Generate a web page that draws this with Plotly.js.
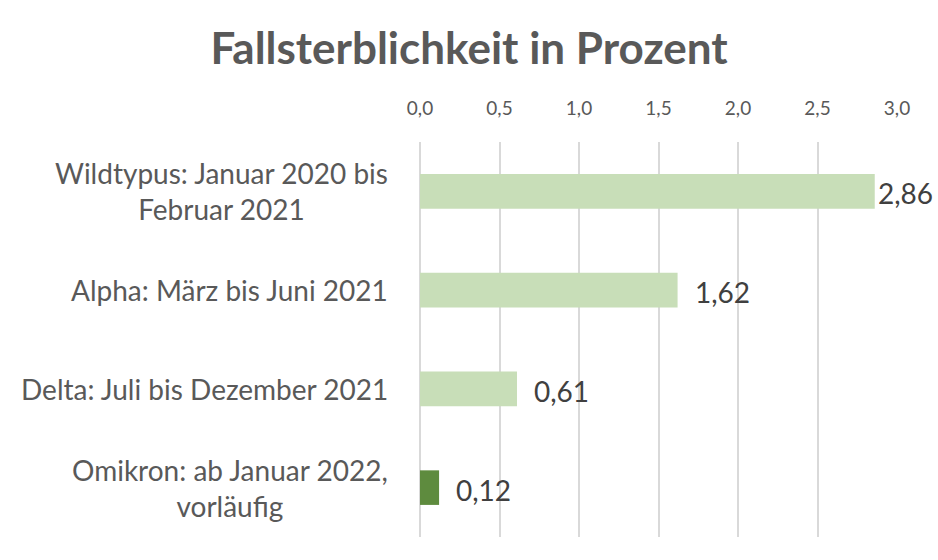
<!DOCTYPE html>
<html>
<head>
<meta charset="utf-8">
<script src="https://cdn.plot.ly/plotly-3.0.1.min.js"></script>
<style>html,body{margin:0;padding:0;background:#fff;}#chart{width:938px;height:560px;}</style>
</head>
<body>
<div id="chart"></div>
<script>
const categories = ["Wildtypus: Januar 2020 bis<br>Februar 2021", "Alpha: März bis Juni 2021", "Delta: Juli bis Dezember 2021", "Omikron: ab Januar 2022,<br>vorläufig"];
const values = [2.86, 1.62, 0.61, 0.12];
const valueLabels = ["2,86", "1,62", "0,61", "0,12"];
const barColors = ["#C8DEB8", "#C8DEB8", "#C8DEB8", "#5E8B3E"];
const tickVals = [0, 0.5, 1, 1.5, 2, 2.5, 3];
const tickText = ["0,0", "0,5", "1,0", "1,5", "2,0", "2,5", "3,0"];

const FONT = "Lato, 'Open Sans', sans-serif";

const trace = {
  type: "bar",
  orientation: "h",
  y: categories,
  x: values,
  width: 0.35,
  marker: {color: barColors},
  hoverinfo: "none"
};

const annotations = [];
categories.forEach((c, i) => {
  annotations.push({
    xref: "paper", yref: "y", x: 0, y: c, xanchor: "right", yanchor: "middle",
    xshift: -30, text: c, showarrow: false, align: "center",
    font: {family: FONT, size: 28, color: "#595959"}
  });
  annotations.push({
    xref: "x", yref: "y", x: values[i], y: c, xanchor: "left", yanchor: "middle",
    xshift: values[i] > 2.5 ? 1 : 15, yshift: -2, text: valueLabels[i], showarrow: false,
    font: {family: FONT, size: 28, color: "#404040"}
  });
});

const layout = {
  width: 938, height: 560,
  margin: {l: 420, r: 41, t: 142, b: 23},
  paper_bgcolor: "#fff", plot_bgcolor: "#fff",
  showlegend: false,
  separators: ",.",
  title: {
    text: "<b>Fallsterblichkeit in Prozent</b>",
    x: 0.5, xanchor: "center", xref: "container",
    y: 0.914, yanchor: "middle", yref: "container",
    font: {family: FONT, size: 44, color: "#595959"}
  },
  xaxis: {
    side: "top", range: [0, 3.0],
    tickvals: tickVals, ticktext: tickText,
    showgrid: true, gridcolor: "#D9D9D9", gridwidth: 2,
    zeroline: true, zerolinecolor: "#D9D9D9", zerolinewidth: 2,
    showline: false, ticks: "",
    ticklabelstandoff: 22,
    tickfont: {family: FONT, size: 19, color: "#595959"}
  },
  yaxis: {
    type: "category", range: [3.5, -0.5],
    showticklabels: false, showgrid: false, zeroline: false, showline: false, ticks: ""
  },
  annotations: annotations
};

Plotly.newPlot("chart", [trace], layout, {displayModeBar: false, staticPlot: true});
</script>
</body>
</html>
